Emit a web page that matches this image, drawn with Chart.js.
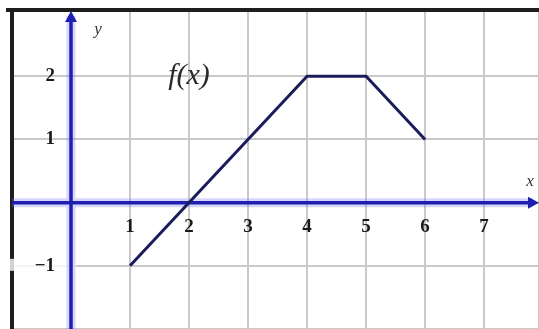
<!DOCTYPE html>
<html>
<head>
<meta charset="utf-8">
<script src="https://cdn.jsdelivr.net/npm/chart.js@4"></script>
<style>
  html, body { margin: 0; padding: 0; background: #fff; }
  #wrap { width: 539px; height: 329px; }
</style>
</head>
<body>
<div id="wrap"><canvas id="graph"></canvas></div>
<script>
// vertices of f(x)
const xValues = [1, 4, 5, 6];
const yValues = [-1, 2, 2, 1];

// tick labels
const xTicks = [1, 2, 3, 4, 5, 6, 7];
const yTicks = [-1, 1, 2];

const serif = '"Liberation Serif", "DejaVu Serif", serif';

// axes, borders and labels drawn on top of the grid
const decorations = {
  id: 'decorations',
  beforeDatasetsDraw(chart) {
    const { ctx, chartArea: a, scales: { x, y } } = chart;
    const x0 = x.getPixelForValue(0);
    const y0 = y.getPixelForValue(0);

    ctx.save();
    // frame (left and top)
    ctx.strokeStyle = '#1e1e1e';
    ctx.lineWidth = 4;
    ctx.beginPath();
    ctx.moveTo(6, a.top);
    ctx.lineTo(a.right, a.top);
    ctx.moveTo(a.left, a.top);
    ctx.lineTo(a.left, a.bottom);
    ctx.stroke();

    // small white box behind the -1 label
    ctx.fillStyle = 'rgba(255,255,255,0.8)';
    ctx.fillRect(6, y.getPixelForValue(-1) - 7, 70, 12);

    // blue axes: halo then core
    const drawAxes = (w, col) => {
      ctx.strokeStyle = col;
      ctx.lineWidth = w;
      ctx.beginPath();
      ctx.moveTo(a.left, y0);
      ctx.lineTo(a.right - 6, y0);
      ctx.moveTo(x0, a.bottom);
      ctx.lineTo(x0, a.top + 6);
      ctx.stroke();
    };
    drawAxes(9, 'rgba(120,120,255,0.3)');
    drawAxes(3.5, '#2020b0');

    // arrow heads
    ctx.fillStyle = '#2020b0';
    ctx.beginPath();
    ctx.moveTo(a.right, y0);
    ctx.lineTo(a.right - 11, y0 - 6);
    ctx.lineTo(a.right - 11, y0 + 6);
    ctx.closePath();
    ctx.fill();
    ctx.beginPath();
    ctx.moveTo(x0, a.top + 1);
    ctx.lineTo(x0 - 6, a.top + 12);
    ctx.lineTo(x0 + 6, a.top + 12);
    ctx.closePath();
    ctx.fill();

    // tick labels
    ctx.fillStyle = '#1a1a1a';
    ctx.font = 'bold 19px ' + serif;
    ctx.textBaseline = 'middle';
    ctx.textAlign = 'center';
    xTicks.forEach((v) => {
      ctx.fillText(String(v), x.getPixelForValue(v), y0 + 24);
    });
    ctx.textAlign = 'right';
    yTicks.forEach((v) => {
      const s = v < 0 ? '\u2212' + Math.abs(v) : String(v);
      ctx.fillText(s, x0 - 16, y.getPixelForValue(v));
    });

    // axis names
    ctx.font = 'italic 17px ' + serif;
    ctx.textAlign = 'center';
    ctx.fillStyle = '#333';
    ctx.fillText('y', x0 + 27, a.top + 20);
    ctx.fillText('x', a.right - 9, y0 - 21);

    // function label
    ctx.font = 'italic 30px ' + serif;
    ctx.fillStyle = '#2a2a2a';
    ctx.fillText('f(x)', x.getPixelForValue(2.0), y.getPixelForValue(2.0));
    ctx.restore();
  }
};

new Chart(document.getElementById('graph'), {
  type: 'scatter',
  data: {
    datasets: [
      {
        data: xValues.map((v, i) => ({ x: v, y: yValues[i] })),
        showLine: true,
        borderColor: '#1c1c5c',
        borderWidth: 3,
        pointRadius: 0,
        tension: 0,
      },
    ],
  },
  options: {
    responsive: true,
    maintainAspectRatio: false,
    animation: false,
    layout: { padding: { left: 12, top: 10, right: 0, bottom: 0 } },
    plugins: { legend: { display: false }, tooltip: { enabled: false } },
    scales: {
      x: {
        type: 'linear',
        min: -1,
        max: 7.93,
        ticks: { display: false, stepSize: 1 },
        grid: { color: '#c9c9c9', lineWidth: 2, drawTicks: false },
        border: { display: false },
      },
      y: {
        type: 'linear',
        min: -2,
        max: 3.05,
        ticks: { display: false, stepSize: 1 },
        grid: { color: '#c9c9c9', lineWidth: 2, drawTicks: false },
        border: { display: false },
      },
    },
  },
  plugins: [decorations],
});
</script>
</body>
</html>
